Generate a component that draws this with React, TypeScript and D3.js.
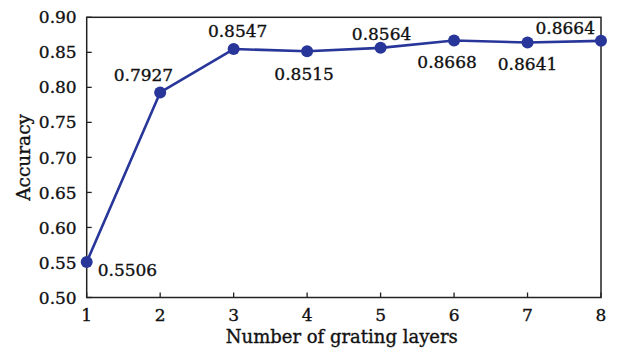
import React from "react";
import * as d3 from "d3";

// Accuracy versus number of grating layers
const layers = [1, 2, 3, 4, 5, 6, 7, 8];
const accuracy = [0.5506, 0.7927, 0.8547, 0.8515, 0.8564, 0.8668, 0.8641, 0.8664];
const yTicks = [0.5, 0.55, 0.6, 0.65, 0.7, 0.75, 0.8, 0.85, 0.9];
const xTicks = [1, 2, 3, 4, 5, 6, 7, 8];

// Where each value label sits relative to its point
const labelPlacement: { dx: number; dy: number; anchor: string }[] = [
  { dx: 11, dy: 14, anchor: "start" },
  { dx: 13, dy: -11, anchor: "end" },
  { dx: 4, dy: -12, anchor: "middle" },
  { dx: -3, dy: 29, anchor: "middle" },
  { dx: 1, dy: -8, anchor: "middle" },
  { dx: -7, dy: 27, anchor: "middle" },
  { dx: 0, dy: 27.5, anchor: "middle" },
  { dx: -6, dy: -7, anchor: "end" },
];

const W = 617;
const H = 353;
const M = { left: 86.7, right: 16, top: 17.3, bottom: 55.5 };
const FONT = "'DejaVu Serif', serif";
const LINE = "#28369a";
const AXIS = "#222";
const TEXT = "#111";
// a hairline outline gives the glyphs a little more weight
const textStyle = { stroke: TEXT, strokeWidth: 0.35 };

export default function App() {
  const x = d3.scaleLinear().domain([1, 8]).range([M.left, W - M.right]);
  const y = d3.scaleLinear().domain([0.5, 0.9]).range([H - M.bottom, M.top]);
  const line = d3
    .line<number>()
    .x((_, i) => x(layers[i]))
    .y((d) => y(d));
  const x0 = x.range()[0];
  const x1 = x.range()[1];
  const yb = y.range()[0];
  const yt = y.range()[1];

  return (
    <svg
      width={W}
      height={H}
      style={{ position: "absolute", left: 0, top: 0, background: "#fff" }}
      fontFamily={FONT}
    >
      <rect x={0} y={0} width={W} height={H} fill="#fff" />
      {/* frame */}
      <rect x={x0} y={yt} width={x1 - x0} height={yb - yt} fill="none" stroke={AXIS} strokeWidth={1.5} />
      {/* y axis ticks */}
      {yTicks.map((t) => (
        <g key={"y" + t}>
          <line x1={x0} x2={x0 + 5} y1={y(t)} y2={y(t)} stroke={AXIS} strokeWidth={1.3} />
          <text x={x0 - 10} y={y(t)} dy="0.36em" textAnchor="end" fontSize={17} fill={TEXT} style={textStyle}>
            {t.toFixed(2)}
          </text>
        </g>
      ))}
      {/* x axis ticks */}
      {xTicks.map((t) => (
        <g key={"x" + t}>
          <line x1={x(t)} x2={x(t)} y1={yb} y2={yb - 5} stroke={AXIS} strokeWidth={1.3} />
          <text x={x(t)} y={yb + 23} textAnchor="middle" fontSize={17} fill={TEXT} style={textStyle}>
            {t}
          </text>
        </g>
      ))}
      <text
        transform={`translate(${23},${(yt + yb) / 2}) rotate(-90)`}
        textAnchor="middle"
        dy="0.36em"
        fontSize={18.5}
        fill={TEXT}
        style={textStyle}
      >
        Accuracy
      </text>
      <text x={(x0 + x1) / 2 - 2} y={H - 10} textAnchor="middle" fontSize={18} fill={TEXT} style={textStyle}>
        Number of grating layers
      </text>
      {/* series */}
      <path d={line(accuracy) || ""} fill="none" stroke={LINE} strokeWidth={2.6} strokeLinejoin="round" />
      {accuracy.map((v, i) => (
        <circle key={"p" + i} cx={x(layers[i])} cy={y(v)} r={6} fill={LINE} />
      ))}
      {accuracy.map((v, i) => (
        <text
          key={"l" + i}
          x={x(layers[i]) + labelPlacement[i].dx}
          y={y(v) + labelPlacement[i].dy}
          textAnchor={labelPlacement[i].anchor}
          fontSize={17}
          fill={TEXT}
          style={textStyle}
        >
          {v.toFixed(4)}
        </text>
      ))}
    </svg>
  );
}
